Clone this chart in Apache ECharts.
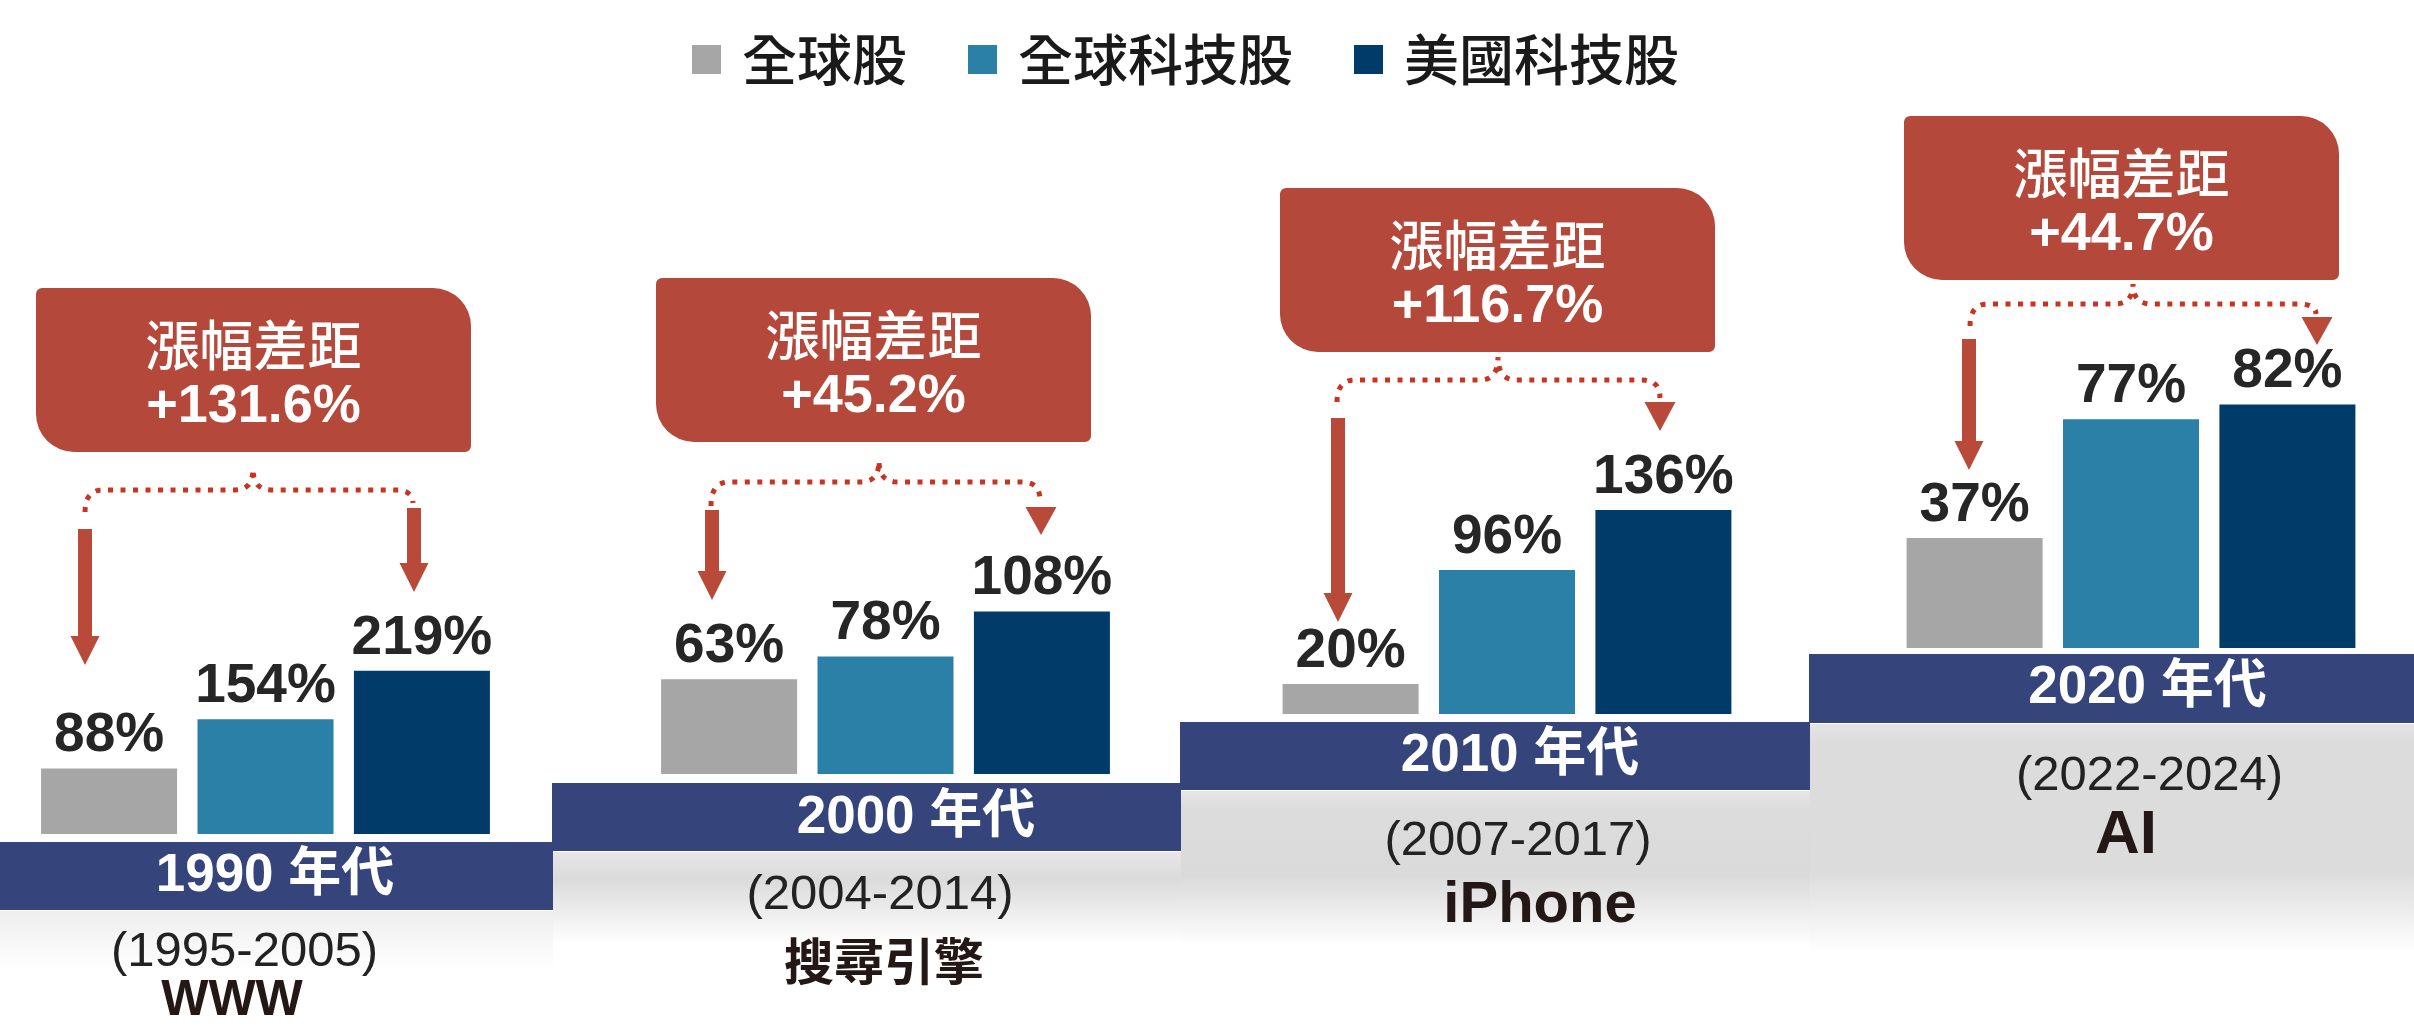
<!DOCTYPE html>
<html>
<head>
<meta charset="utf-8">
<script src="https://cdn.jsdelivr.net/npm/echarts@6/dist/echarts.min.js"></script>
<style>
html,body{margin:0;padding:0;background:#fff;}
#c{width:2414px;height:1034px;}
</style>
</head>
<body>
<div id="c"></div>
<script>
// ---------- DATA ----------
const indices = ['全球股', '全球科技股', '美國科技股'];
const eras = ['1990 年代', '2000 年代', '2010 年代', '2020 年代'];
const periods = ['(1995-2005)', '(2004-2014)', '(2007-2017)', '(2022-2024)'];
const themes = ['WWW', '搜尋引擎', 'iPhone', 'AI'];
const globalEquity = [88, 63, 20, 37];
const globalTech = [154, 78, 96, 77];
const usTech = [219, 108, 136, 82];
const spreadLabel = ['+131.6%', '+45.2%', '+116.7%', '+44.7%'];
const spreadTitle = '漲幅差距';

// ---------- LAYOUT / STYLE ----------
const W = 2414, H = 1034;
const colors = ['#a6a6a6', '#2b80a8', '#013b69'];
const bandColor = '#35447b';
const boxColor = '#b4483a';
const arrowColor = '#b94a39';
const dotColor = '#c9331f';
const groupCenterX = [265.5, 885.5, 1507, 2131];
const baselineY = [834, 774, 714, 648];
const pxPerPct = [0.745, 1.505, 1.5, 2.97];
const bands = [[0, 842, 553, 68], [552, 783, 629, 68], [1180, 722, 630, 68], [1809, 654, 605, 69]];
const eraLabelX = [275, 916, 1520, 2147.5];
const eraLabelY = [876, 818, 756, 688];
const periodPos = [[244.5, 952], [880, 895], [1518, 841], [2149.5, 776]];
const themePos = [[232, 1001, 50], [884, 966, 50], [1540, 906, 58], [2126, 836, 62]];
const boxPos = [[36, 288], [656, 278], [1280, 188], [1904, 116]];
const boxW = 435, boxH = 164;
// brace: [xl, yl, yb, px, py, xr, yr]
const braces = [
  [85, 512, 490, 253, 469, 413, 503],
  [711, 506, 482, 879, 461, 1040, 500],
  [1337, 402, 380, 1498, 357, 1660, 398],
  [1970, 326, 304, 2133, 284, 2316, 314]
];
// left arrow: [x, top, tip]
const leftArrows = [[85, 529, 665], [712, 510, 600], [1338, 418, 622], [1969, 339, 470]];
// right arrow: [x, top, tip, withShaft]
const rightArrows = [[414, 508, 592, true], [1041, 507, 535, false], [1660, 402, 431, false], [2317, 317, 345, false]];

const numFont = '"Liberation Sans", Arial, "Noto Sans CJK TC", sans-serif';
const cjkFont = '"Noto Sans CJK TC", "Noto Sans CJK SC", sans-serif';

const chart = echarts.init(document.getElementById('c'), null, {renderer: 'canvas'});

const values = [globalEquity, globalTech, usTech];
const grids = [], xAxes = [], yAxes = [], series = [];
for (let i = 0; i < 4; i++) {
  grids.push({left: groupCenterX[i] - 230, width: 460, top: 0, bottom: H - baselineY[i], containLabel: false});
  const dx = eraLabelX[i] - groupCenterX[i];
  xAxes.push({
    type: 'category', gridIndex: i, data: [eras[i]], z: 50,
    axisLine: {show: false}, axisTick: {show: false}, splitLine: {show: false},
    axisLabel: {
      show: true, interval: 0, color: '#ffffff', fontSize: 53, fontWeight: 'bold',
      fontFamily: numFont, lineHeight: 53,
      margin: eraLabelY[i] - baselineY[i] - 26.5,
      padding: dx >= 0 ? [0, 0, 0, 2 * dx] : [0, -2 * dx, 0, 0]
    }
  });
  yAxes.push({type: 'value', gridIndex: i, min: 0, max: baselineY[i] / pxPerPct[i], show: false, splitLine: {show: false}});
  for (let j = 0; j < 3; j++) {
    series.push({
      type: 'bar', name: indices[j], xAxisIndex: i, yAxisIndex: i,
      data: [values[j][i]], barWidth: 136, barGap: '15%',
      itemStyle: {color: colors[j]},
      label: {
        show: true, position: 'top', distance: 5, formatter: '{c}%',
        color: '#262626', fontSize: 55, fontWeight: 'bold', fontFamily: numFont, lineHeight: 55
      },
      emphasis: {disabled: true}, animation: false
    });
  }
}

// ---------- decorative graphics ----------
const G = [];
const shades = [
  [0, 911, 553, 60, [[0, '#eeeeee'], [1, '#ffffff']]],
  [553, 852, 628, 92, [[0, '#e6e6e6'], [0.3, '#dbdbdb'], [1, '#ffffff']]],
  [1181, 791, 629, 155, [[0, '#e6e6e6'], [0.12, '#dcdcdc'], [0.55, '#dadada'], [1, '#ffffff']]],
  [1810, 724, 604, 228, [[0, '#e4e4e4'], [0.08, '#dcdcdc'], [0.65, '#dcdcdc'], [1, '#ffffff']]]
];
shades.forEach(s => {
  G.push({type: 'rect', z: -10, shape: {x: s[0], y: s[1], width: s[2], height: s[3]},
    style: {fill: new echarts.graphic.LinearGradient(0, 0, 0, 1, s[4].map(c => ({offset: c[0], color: c[1]})))}});
});
bands.forEach(b => {
  G.push({type: 'rect', z: -5, shape: {x: b[0], y: b[1], width: b[2], height: b[3]}, style: {fill: bandColor}});
});
for (let i = 0; i < 4; i++) {
  G.push({type: 'text', z: 5, x: periodPos[i][0], y: periodPos[i][1],
    style: {text: periods[i], fill: '#222222', fontSize: 49, fontFamily: numFont, align: 'center', verticalAlign: 'middle', textAlign: 'center', textVerticalAlign: 'middle'}});
  G.push({type: 'text', z: 5, x: themePos[i][0], y: themePos[i][1],
    style: {text: themes[i], fill: '#231815', fontSize: themePos[i][2], fontWeight: 'bold', fontFamily: numFont, align: 'center', verticalAlign: 'middle', textAlign: 'center', textVerticalAlign: 'middle'}});
  const bx = boxPos[i][0], by = boxPos[i][1];
  G.push({type: 'rect', z: 3, shape: {x: bx, y: by, width: boxW, height: boxH, r: [6, 38, 6, 38]}, style: {fill: boxColor}});
  G.push({type: 'text', z: 4, x: bx + boxW / 2, y: by + 57,
    style: {text: spreadTitle, fill: '#ffffff', fontSize: 54, fontWeight: 500, fontFamily: cjkFont, align: 'center', verticalAlign: 'middle', textAlign: 'center', textVerticalAlign: 'middle'}});
  G.push({type: 'text', z: 4, x: bx + boxW / 2, y: by + 119,
    style: {text: spreadLabel[i], fill: '#ffffff', fontSize: 54, fontWeight: 'bold', fontFamily: numFont, align: 'center', verticalAlign: 'middle', textAlign: 'center', textVerticalAlign: 'middle'}});
  const [xl, yl, yb, px, py, xr, yr] = braces[i];
  const r = 18;
  const pts = [];
  const quad = (p0, p1, p2) => { for (let k = 0; k <= 10; k++) { const t = k / 10, u = 1 - t; pts.push([u*u*p0[0] + 2*u*t*p1[0] + t*t*p2[0], u*u*p0[1] + 2*u*t*p1[1] + t*t*p2[1]]); } };
  quad([xl, yl], [xl, yb], [xl + r, yb]);
  pts.push([px - r, yb]);
  quad([px - r, yb], [px, yb], [px, py]);
  quad([px, py], [px, yb], [px + r, yb]);
  pts.push([xr - r, yb]);
  quad([xr - r, yb], [xr, yb], [xr, yr]);
  G.push({type: 'polyline', z: 3, shape: {points: pts}, style: {stroke: dotColor, lineWidth: 5, lineDash: [5, 7.5], fill: null}});
  const arrowPoly = (x, top, tip, shaft) => {
    const hw = 14.5, sw = 7, hl = 29;
    if (!shaft) return [[x - hw - 1, top], [x + hw + 1, top], [x, tip]];
    return [[x - sw, top], [x + sw, top], [x + sw, tip - hl], [x + hw, tip - hl], [x, tip], [x - hw, tip - hl], [x - sw, tip - hl]];
  };
  const la = leftArrows[i];
  G.push({type: 'polygon', z: 3, shape: {points: arrowPoly(la[0], la[1], la[2], true)}, style: {fill: arrowColor}});
  const ra = rightArrows[i];
  G.push({type: 'polygon', z: 3, shape: {points: arrowPoly(ra[0], ra[1], ra[2], ra[3])}, style: {fill: arrowColor}});
}

chart.setOption({
  animation: false,
  backgroundColor: '#ffffff',
  legend: {
    data: indices, left: 687, top: 27, icon: 'rect', itemWidth: 29, itemHeight: 29, itemGap: 61,
    selectedMode: false,
    textStyle: {fontSize: 55, fontWeight: 500, fontFamily: cjkFont, color: '#1a1a1a', padding: [0, 0, 13, 16]}
  },
  tooltip: {show: false},
  grid: grids, xAxis: xAxes, yAxis: yAxes, series: series,
  graphic: {z: 0, elements: G}
});
</script>
</body>
</html>
